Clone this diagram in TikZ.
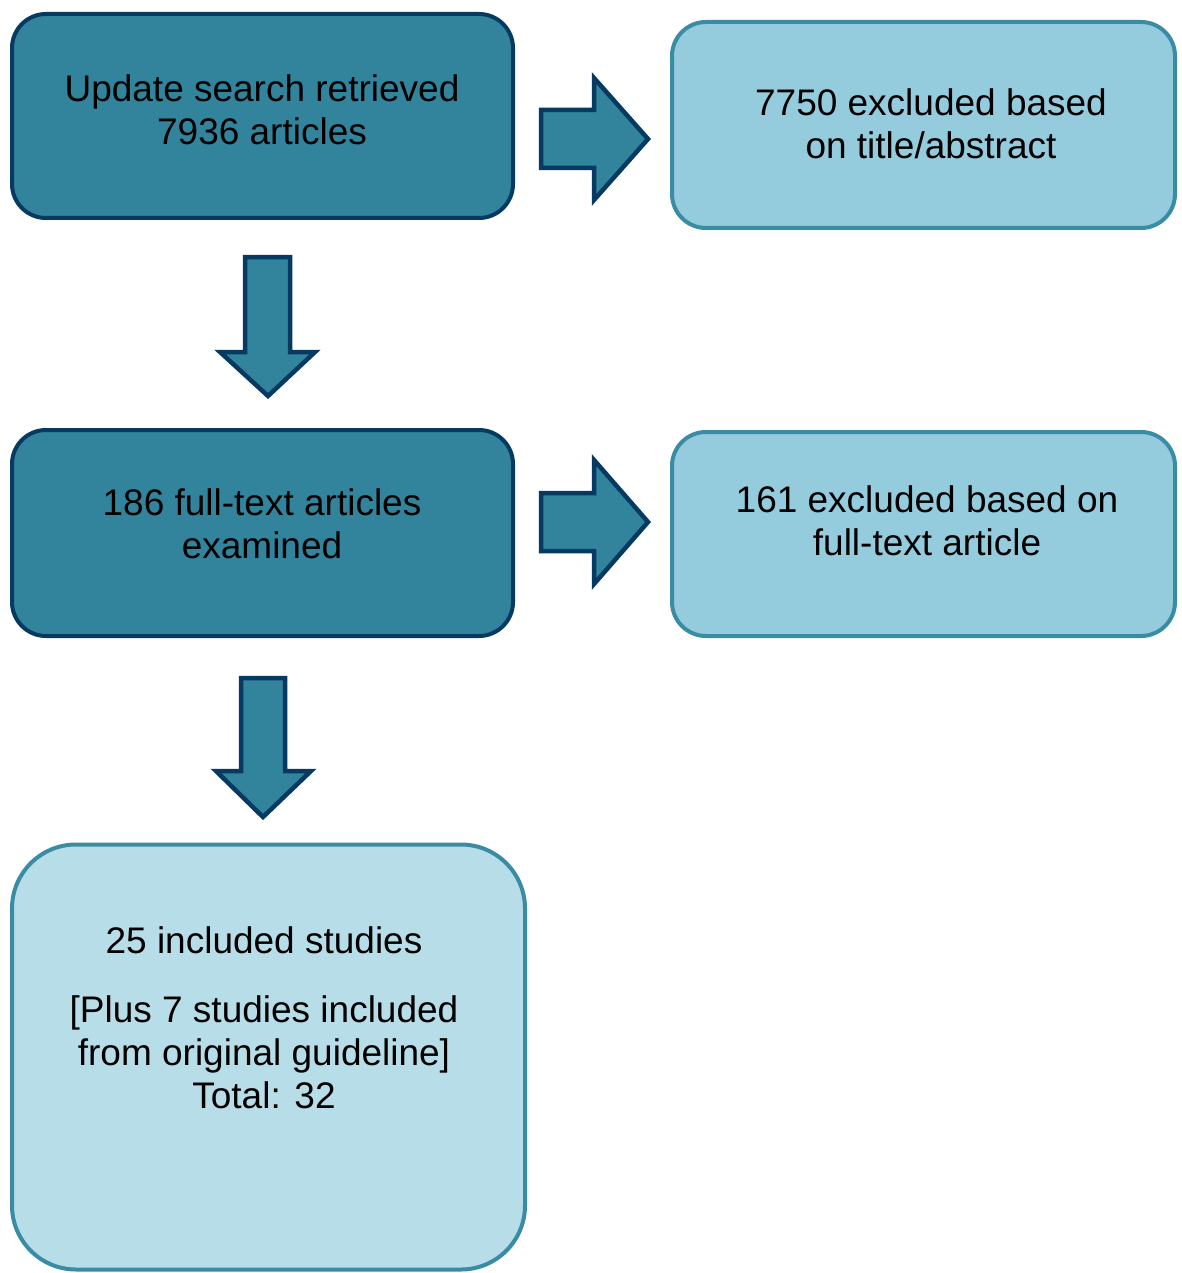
\documentclass[tikz,border=0pt]{standalone}
\usepackage{fontspec}
\setmainfont{Liberation Sans}
\definecolor{darkfill}{HTML}{32849C}
\definecolor{darkline}{HTML}{073A62}
\definecolor{lightfill}{HTML}{94CCDD}
\definecolor{lightline}{HTML}{3A8CA4}
\definecolor{palefill}{HTML}{B7DEE8}
\tikzset{
  darkbox/.style={draw=darkline, fill=darkfill, line width=4pt, rounded corners=34pt, inner sep=0pt},
  lightbox/.style={draw=lightline, fill=lightfill, line width=4pt, rounded corners=34pt, inner sep=0pt},
  palebox/.style={draw=lightline, fill=palefill, line width=4pt, rounded corners=64pt, inner sep=0pt},
  txt/.style={align=center, inner sep=0pt, font=\fontsize{37}{43}\selectfont},
  blockarrow/.style={draw=darkline, fill=darkfill, line width=4.5pt, line join=miter}
}
\begin{document}
\begin{tikzpicture}[x=1pt,y=-1pt]
\useasboundingbox (0,0) rectangle (1182,1273);
% boxes
\node[darkbox, minimum width=501pt, minimum height=204pt] (b1) at (262.5,116) {};
\node[lightbox, minimum width=503pt, minimum height=206pt] (b2) at (923.5,125) {};
\node[darkbox, minimum width=501pt, minimum height=206pt] (b3) at (262.5,533) {};
\node[lightbox, minimum width=503pt, minimum height=204pt] (b4) at (923.5,534) {};
\node[palebox, minimum width=513pt, minimum height=425pt] (b5) at (268.5,1057) {};
% texts
\node[txt] (t1) at (262,110) {Update search retrieved\\7936 articles};
\node[txt] (t2) at (931,124) {7750 excluded based\\on title/abstract};
\node[txt] (t3) at (262,524) {186 full-text articles\\examined};
\node[txt] (t4) at (927,521) {161 excluded based on\\full-text article};
\node[txt] (t5) at (264,940) {25 included studies};
\node[txt] (t6) at (264,1052) {[Plus 7 studies included\\from original guideline]\\Total: 32};
% block arrows
\draw[blockarrow] (541,110) -- (594,110) -- (594,78) -- (648,139) -- (594,200) -- (594,168) -- (541,168) -- cycle;
\draw[blockarrow] (541,493) -- (594,493) -- (594,460) -- (648,522) -- (594,584) -- (594,551) -- (541,551) -- cycle;
\draw[blockarrow] (245,257) -- (290,257) -- (290,352) -- (315,352) -- (268,396) -- (220,352) -- (245,352) -- cycle;
\draw[blockarrow] (241,678) -- (285,678) -- (285,771) -- (311,771) -- (263,817) -- (216,771) -- (241,771) -- cycle;
\end{tikzpicture}
\end{document}
